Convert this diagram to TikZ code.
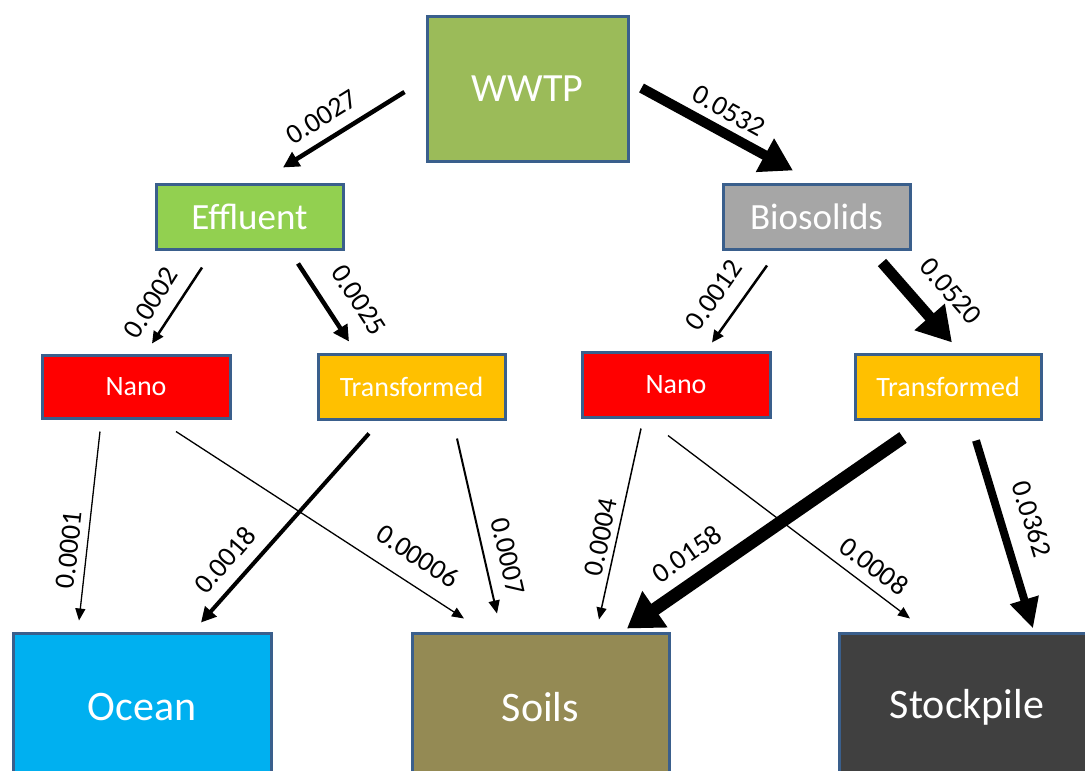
\documentclass[tikz,border=0pt]{standalone}
\usepackage{fontspec}
\setmainfont{Carlito}
\usetikzlibrary{arrows.meta,calc}
\definecolor{bord}{HTML}{3A5F8C}
\definecolor{cwwtp}{HTML}{9BBB59}
\definecolor{ceff}{HTML}{92D050}
\definecolor{cbio}{HTML}{A6A6A6}
\definecolor{cnano}{HTML}{FF0000}
\definecolor{ctrans}{HTML}{FFC000}
\definecolor{cocean}{HTML}{00B0F0}
\definecolor{csoil}{HTML}{948A54}
\definecolor{cstock}{HTML}{404040}
\begin{document}
\begin{tikzpicture}[x=1pt,y=-1pt,
  box/.style={rectangle, draw=bord, line width=3pt, text=white, inner sep=0pt},
  fl/.style n args={3}{line width=#1, -{Triangle[length=#2,width=#3]}},
  lab/.style={font=\fontsize{28}{32}\selectfont, inner sep=0pt, text=black}]
\useasboundingbox (0,0) rectangle (1085,771);
\clip (0,0) rectangle (1085,771);
\fill[white] (0,0) rectangle (1085,771);

% boxes
\node[box, fill=cwwtp, minimum width=201pt, minimum height=145pt, font=\fontsize{40}{48}\selectfont] (wwtp) at (527.5,88.5) {WWTP};
\node[box, fill=ceff, minimum width=187pt, minimum height=65pt, font=\fontsize{37}{44}\selectfont] (eff) at (249.5,216.5) {Effluent};
\node[box, fill=cbio, minimum width=187pt, minimum height=65pt, font=\fontsize{37}{44}\selectfont] (bio) at (816.5,216.5) {Biosolids};
\node[box, fill=cnano, minimum width=188pt, minimum height=63pt, font=\fontsize{28}{34}\selectfont] (nanoL) at (136,386.5) {Nano};
\node[box, fill=ctrans, minimum width=187pt, minimum height=65pt, font=\fontsize{28}{34}\selectfont] (transL) at (411.5,386.5) {Transformed};
\node[box, fill=cnano, minimum width=188pt, minimum height=65pt, font=\fontsize{28}{34}\selectfont] (nanoR) at (676,384.5) {Nano};
\node[box, fill=ctrans, minimum width=186pt, minimum height=65pt, font=\fontsize{28}{34}\selectfont] (transR) at (948,386.5) {Transformed};
\node[box, fill=cocean, minimum width=258pt, minimum height=148pt, font=\fontsize{42}{50}\selectfont] (ocean) at (142,707) {Ocean};
\node[box, fill=csoil, minimum width=257pt, minimum height=148pt, font=\fontsize{42}{50}\selectfont] (soils) at (540.5,707) {Soils};
\node[box, fill=cstock, minimum width=256pt, minimum height=148pt, font=\fontsize{42}{50}\selectfont] (stock) at (967,707) {Stockpile};

% connectors
\draw[fl={4.5pt}{16pt}{16pt}] ($(wwtp.west)+(-21,3.5)$) -- ($(eff.north)+(33.5,-15)$);
\draw[fl={10pt}{32pt}{36pt}] ($(wwtp.east)+(12,-0.5)$) -- ($(bio.north)+(-23.5,-12)$);
\draw[fl={2.5pt}{12pt}{11pt}] ($(eff.south)+(-47.5,17)$) -- ($(nanoL.north)+(16,-10)$);
\draw[fl={4.5pt}{16pt}{16pt}] ($(eff.south)+(48.5,13)$) -- ($(transL.north)+(-62.5,-11)$);
\draw[fl={2.5pt}{12pt}{11pt}] ($(bio.south)+(-49.5,15)$) -- ($(nanoR.north)+(36,-8)$);
\draw[fl={11pt}{34pt}{38pt}] ($(bio.south)+(65.5,12)$) -- ($(transR.north)+(4,-10)$);
\draw[fl={1.3pt}{12pt}{10pt}] ($(nanoL.south)+(-36,12)$) -- ($(ocean.north)+(-63,-11)$);
\draw[fl={1.3pt}{12pt}{10pt}] ($(nanoL.south)+(40,12)$) -- ($(soils.north)+(-76.5,-13)$);
\draw[fl={4pt}{15pt}{15pt}] ($(transL.south)+(-42.5,13)$) -- ($(ocean.north)+(59,-9)$);
\draw[fl={2pt}{13pt}{11pt}] ($(transL.south)+(45.5,18)$) -- ($(soils.north)+(-43.5,-18)$);
\draw[fl={1.5pt}{12pt}{10pt}] ($(nanoR.south)+(-35,10)$) -- ($(soils.north)+(58.5,-12)$);
\draw[fl={1.3pt}{12pt}{10pt}] ($(nanoR.south)+(-8,17)$) -- ($(stock.north)+(-57,-13)$);
\draw[fl={13pt}{34pt}{42pt}] ($(transR.south)+(-45,17)$) -- ($(soils.north)+(86.5,-3)$);
\draw[fl={8pt}{30pt}{28pt}] ($(transR.south)+(28,20)$) -- ($(stock.north)+(66,-3)$);

% labels
\node[lab, rotate=32] (l1) at (322,117) {0.0027};
\node[lab, rotate=-29] (l2) at (729,111) {0.0532};
\node[lab, rotate=58] (l3) at (151,303) {0.0002};
\node[lab, rotate=-57] (l4) at (359,300) {0.0025};
\node[lab, rotate=55] (l5) at (714,295) {0.0012};
\node[lab, rotate=-49] (l6) at (951,291) {0.0520};
\node[lab, rotate=84] (l7) at (69,550) {0.0001};
\node[lab, rotate=-33] (l8) at (418,556) {0.00006};
\node[lab, rotate=49] (l9) at (225,560) {0.0018};
\node[lab, rotate=-77] (l10) at (508,556) {0.0007};
\node[lab, rotate=78] (l11) at (601,537) {0.0004};
\node[lab, rotate=35] (l12) at (687,554) {0.0158};
\node[lab, rotate=-37] (l13) at (874,566) {0.0008};
\node[lab, rotate=-73] (l14) at (1032,519) {0.0362};
\end{tikzpicture}
\end{document}
